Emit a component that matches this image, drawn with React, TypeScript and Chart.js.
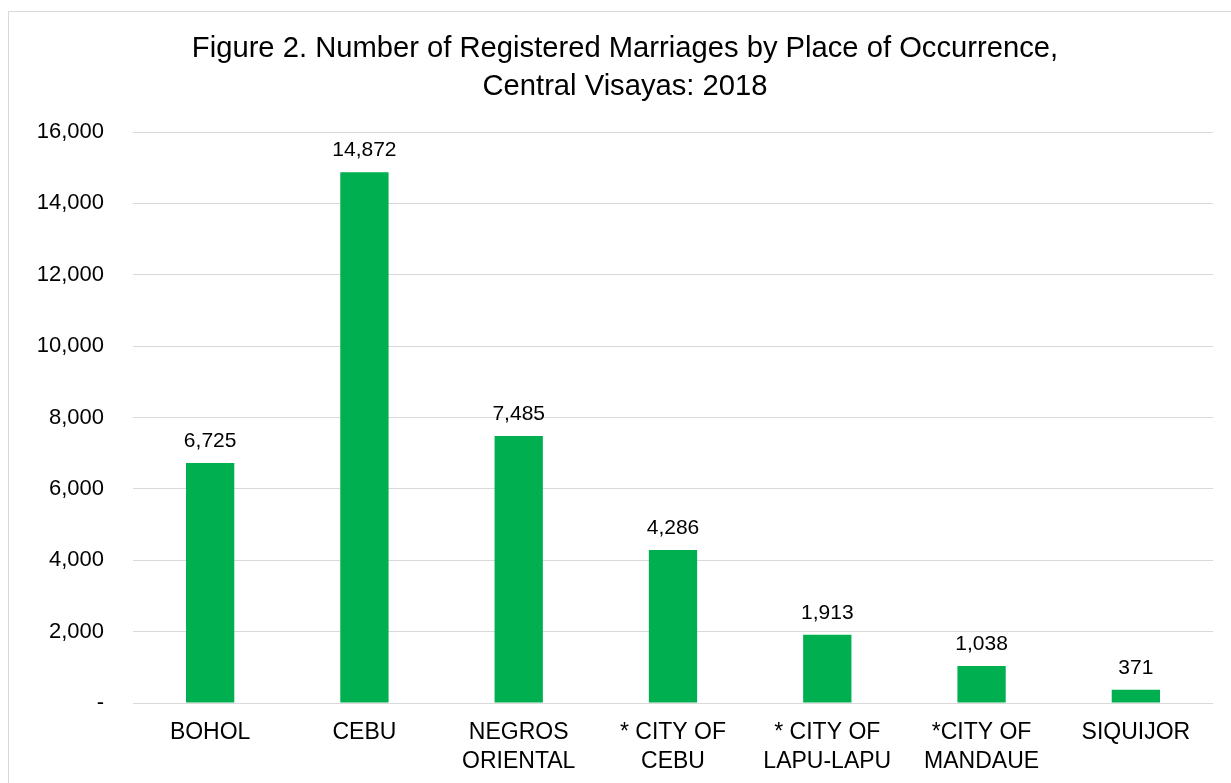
import React, { useEffect, useRef } from "react";
import { Chart, registerables } from "chart.js";

Chart.register(...registerables);

const titleLines = [
  "Figure 2. Number of Registered Marriages by Place of Occurrence,",
  "Central Visayas: 2018",
];
const categories: string[][] = [
  ["BOHOL"],
  ["CEBU"],
  ["NEGROS", "ORIENTAL"],
  ["* CITY OF", "CEBU"],
  ["* CITY OF", "LAPU-LAPU"],
  ["*CITY OF", "MANDAUE"],
  ["SIQUIJOR"],
];
const marriages = [6725, 14872, 7485, 4286, 1913, 1038, 371];
const yMin = 0;
const yMax = 16000;
const yStep = 2000;

const FONT = "'Liberation Sans', Arial, sans-serif";

const dataLabelPlugin = {
  id: "dataLabels",
  afterDatasetsDraw(chart: any) {
    const ctx = chart.ctx;
    const meta = chart.getDatasetMeta(0);
    const ds = chart.data.datasets[0];
    ctx.save();
    ctx.font = `21px ${FONT}`;
    ctx.fillStyle = "#000";
    ctx.textAlign = "center";
    ctx.textBaseline = "alphabetic";
    meta.data.forEach((bar: any, i: number) => {
      const v = ds.data[i] as number;
      ctx.fillText(v.toLocaleString("en-US"), bar.x, bar.y - 16);
    });
    ctx.restore();
  },
};

export default function App() {
  const ref = useRef<HTMLCanvasElement | null>(null);

  useEffect(() => {
    if (!ref.current) return;
    const chart = new Chart(ref.current, {
      type: "bar",
      data: {
        labels: categories,
        datasets: [
          {
            data: marriages,
            backgroundColor: "#00B050",
            borderWidth: 0,
            barPercentage: 0.313,
            categoryPercentage: 1,
          },
        ],
      },
      options: {
        responsive: false,
        animation: false,
        layout: { padding: { left: 28, right: 28, top: 0, bottom: 0 } },
        plugins: {
          legend: { display: false },
          tooltip: { enabled: false },
          title: {
            display: true,
            text: titleLines,
            color: "#000",
            font: { family: FONT, size: 29.2, weight: "normal", lineHeight: 1.3 },
            padding: { top: 17.7, bottom: 26.4 },
          },
        },
        scales: {
          x: {
            grid: { display: false, drawTicks: false },
            border: { display: false },
            ticks: {
              color: "#000",
              font: { family: FONT, size: 23, lineHeight: 1.23 },
              padding: 16,
              maxRotation: 0,
              autoSkip: false,
            },
            afterFit: (scale: any) => {
              scale.height = 81;
            },
          },
          y: {
            min: yMin,
            max: yMax,
            grid: { color: "#d9d9d9", lineWidth: 1, drawTicks: false },
            border: { display: false },
            ticks: {
              stepSize: yStep,
              color: "#000",
              font: { family: FONT, size: 22 },
              padding: 29,
              callback: (v: any) => (Number(v) === 0 ? "-" : Number(v).toLocaleString("en-US")),
            },
            afterFit: (scale: any) => {
              scale.width = 96;
            },
          },
        },
      },
      plugins: [dataLabelPlugin],
    });
    return () => chart.destroy();
  }, []);

  return (
    <div
      style={{
        position: "fixed",
        left: 8,
        top: 11,
        width: 1232,
        height: 780,
        border: "1px solid #d9d9d9",
        background: "#fff",
      }}
    >
      <canvas ref={ref} width={1232} height={772} style={{ display: "block", width: 1232, height: 772 }} />
    </div>
  );
}
